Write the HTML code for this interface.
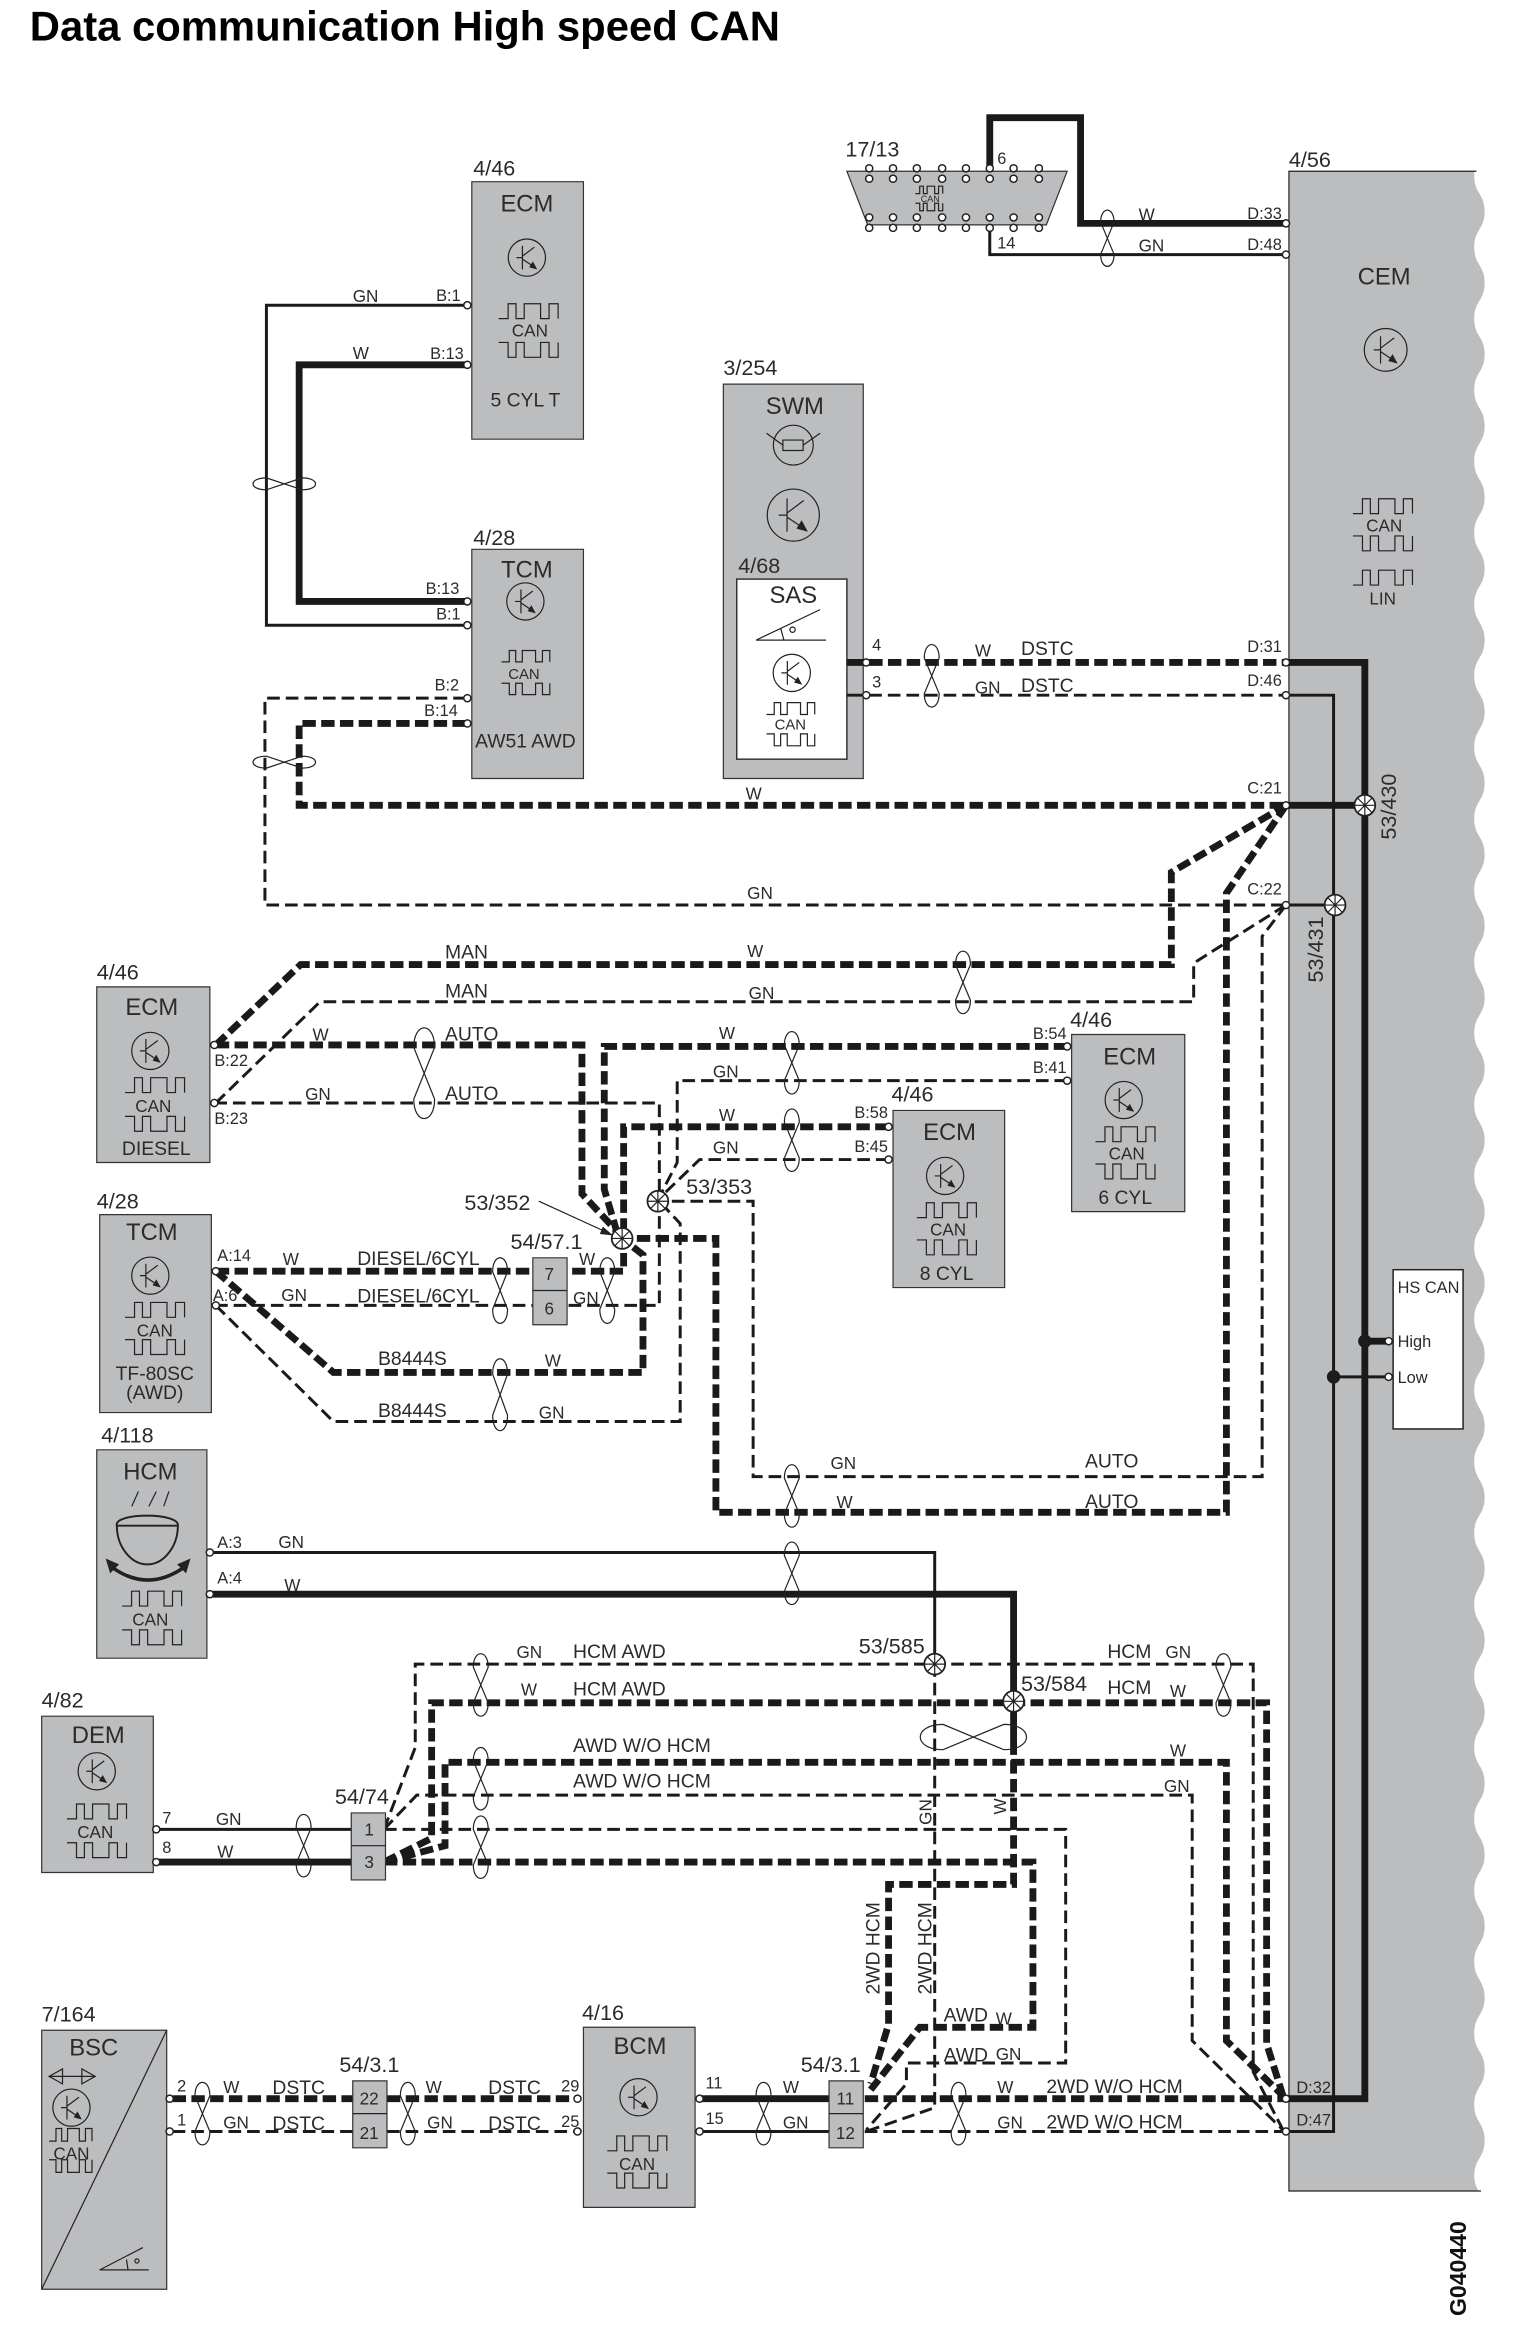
<!DOCTYPE html>
<html><head><meta charset="utf-8"><title>Data communication High speed CAN</title>
<style>
html,body{margin:0;padding:0;background:#fff}
svg{display:block}
text{font-family:"Liberation Sans",sans-serif;fill:#2b2b2b}
.w{fill:none;stroke:#1a1a1a}
.s4{stroke-width:4.6}
.s2{stroke-width:2}
.d4{stroke-width:4.6;stroke-dasharray:9 3.6}
.d2{stroke-width:2;stroke-dasharray:8.5 4}
.l{fill:none;stroke:#222;stroke-width:1.2px;vector-effect:non-scaling-stroke}
.b{fill:#bcbdbf;stroke:#333;stroke-width:1.2px;vector-effect:non-scaling-stroke}
.t11{font-size:11.5px}.t10{font-size:11px}.t12{font-size:13px}.t14{font-size:14.5px}.t16{font-size:16px}
.m{text-anchor:middle}
</style></head><body>
<svg xmlns="http://www.w3.org/2000/svg" width="1536" height="2334" viewBox="0 0 1032 1568">
<defs>
<g id="tr"><circle r="12.5" class="l"/><path class="l" d="M-3-8V8M-7 0H-3M-3-1L5-7M-3 1L3 5"/><path d="M7 8L1.5 6.5L4 2.5z" fill="#222"/></g>
<g id="wu"><path class="l" d="M0 10H6.4V0H11.7V10H17.2V0H28.2V10H33.9V0H40V10"/></g>
<g id="wd"><path class="l" d="M0 0H6.4V10H11.7V0H17.2V10H28.2V0H33.9V10H40V0"/></g>
<g id="tv"><path class="l" d="M-5-12C-5-24 5-24 5-12L-5 12C-5 24 5 24 5 12Z" fill="none"/></g>
<g id="sp"><circle r="7" fill="#fff" stroke="#222" stroke-width="1.2"/><path class="l" d="M-7 0H7M0-7V7M-5-5L5 5M-5 5L5-5"/></g>
<circle id="p" r="2.4" fill="#fff" stroke="#222" stroke-width="1"/>
</defs>

<text x="20" y="27" font-size="28" font-weight="bold" style="fill:#000" textLength="504" lengthAdjust="spacingAndGlyphs">Data communication High speed CAN</text>

<!-- CEM body -->
<path fill="#bcbdbf" d="M866 115H990.5V118
c0 12 7 12 7 24c0 12-7 12-7 24c0 12 7 12 7 24c0 12-7 12-7 24c0 12 7 12 7 24c0 12-7 12-7 24c0 12 7 12 7 24c0 12-7 12-7 24c0 12 7 12 7 24c0 12-7 12-7 24c0 12 7 12 7 24c0 12-7 12-7 24c0 12 7 12 7 24c0 12-7 12-7 24
c0 12 7 12 7 24c0 12-7 12-7 24c0 12 7 12 7 24c0 12-7 12-7 24c0 12 7 12 7 24c0 12-7 12-7 24c0 12 7 12 7 24c0 12-7 12-7 24c0 12 7 12 7 24c0 12-7 12-7 24c0 12 7 12 7 24c0 12-7 12-7 24c0 12 7 12 7 24c0 12-7 12-7 24
c0 12 7 12 7 24c0 12-7 12-7 24c0 12 7 12 7 24c0 12-7 12-7 24c0 12 7 12 7 24c0 12-7 12-7 24c0 12 7 12 7 24c0 12-7 12-7 24c0 12 7 12 7 24c0 12-7 12-7 24c0 12 7 12 7 24c0 12-7 12-7 24c0 12 7 12 7 24c0 12-7 12-7 24
c0 12 7 12 7 24c0 12-7 12-7 24c0 12 7 12 7 24c0 12-7 12-7 24c0 12 7 12 7 24c0 12-7 12-7 24c0 12 7 12 7 24c0 12-7 12-7 24c0 12 7 12 7 24c0 12-7 12-7 24c0 12 7 12 7 24c0 12-7 12-7 24c0 12 7 12 7 24c0 12-7 12-7 24
c0 3 1 7 3 10H866Z"/>
<path class="l" d="M992 115H866V1472H995"/>

<!-- Boxes -->
<rect class="b" x="317" y="122" width="75" height="173"/>
<rect class="b" x="317" y="369" width="75" height="154"/>
<rect class="b" x="486" y="258" width="94" height="265"/>
<rect x="495" y="389" width="74" height="121" fill="#fff" stroke="#333" stroke-width="1"/>
<rect class="b" x="65" y="663" width="76" height="118"/>
<rect class="b" x="67" y="816" width="75" height="133"/>
<rect class="b" x="65" y="974" width="74" height="140"/>
<rect class="b" x="28" y="1153" width="75" height="105"/>
<rect class="b" x="28" y="1364" width="84" height="174"/>
<path class="l" d="M112 1364L28 1538"/>
<rect class="b" x="392" y="1362" width="75" height="121"/>
<rect class="b" x="600" y="746" width="75" height="119"/>
<rect class="b" x="720" y="695" width="76" height="119"/>
<path class="b" d="M569 115H717L703 151H583Z"/>
<rect x="936" y="853" width="47" height="107" fill="#fff" stroke="#222" stroke-width="1"/>

<!-- Wires -->
<g class="w">
<path class="s2" d="M313 205H179V420H313"/>
<path class="s4" d="M313 245H201V404H313"/>
<path class="d2" d="M313 469H178V608H864"/>
<path class="d4" d="M313 486H201V541H864"/>
<path class="s4" d="M665 112V79H726V150H864"/>
<path class="s2" d="M665 153V171H864"/>
<path class="s4" d="M569 445H580"/><path class="d4" d="M584 445H864"/>
<path class="s2" d="M569 467H580"/><path class="d2" d="M584 467H864"/>
<path class="s4" d="M864 445H917V1410H864"/>
<path class="s2" d="M864 467H896V1432H864"/>
<path class="s4" d="M864 541H917"/>
<path class="s2" d="M864 608H897"/>

<path class="d4" d="M145 702L202 648H787V586L864 541"/>
<path class="d2" d="M145 741L215 673H802V647L864 608"/>
<path class="d4" d="M864 541L824 600V1016H481V832H425"/>
<path class="d2" d="M864 608L848 629V992H506V807H448"/>
<path class="d4" d="M145 702H391V802L418 831"/>
<path class="d4" d="M717 703H406V799L414 826"/>
<path class="d4" d="M597 757H419V825"/>
<path class="d2" d="M144 741H443V877H145"/>
<path class="d2" d="M717 726H455V781L442 806"/>
<path class="d2" d="M597 779H470L442 806"/>
<path class="d4" d="M145 854H419V832"/>
<path class="d4" d="M145 854L224 922H432V843L418 832"/>
<path class="d2" d="M145 877L224 955H457V822L442 806"/>

<path class="s2" d="M143 1043H628V1118"/>
<path class="s4" d="M143 1071H681V1143"/>
<path class="d2" d="M628 1118V1416L582 1432"/>
<path class="s4" d="M681 1143V1170"/>
<path class="d4" d="M681 1170V1266H597V1360L585 1400"/>
<path class="d2" d="M258 1229L279 1174V1118H842V1392L862 1431"/>
<path class="d4" d="M258 1251L290 1235V1144H851V1373L862 1408"/>
<path class="d4" d="M258 1251L299 1240V1184H824V1371L862 1408"/>
<path class="d2" d="M258 1229L280 1206H801V1371L862 1431"/>
<path class="d2" d="M258 1229H716V1386H609V1400L582 1431"/>
<path class="d4" d="M258 1251H694V1362H618L585 1404"/>
<path class="d4" d="M581 1410H864"/>
<path class="d2" d="M581 1432H864"/>
<path class="s4" d="M470 1410H558"/>
<path class="s2" d="M470 1432H558"/>
<path class="d4" d="M116 1410H237"/><path class="d4" d="M260 1410H386"/>
<path class="d2" d="M116 1432H237"/><path class="d2" d="M260 1432H386"/>
<path class="s2" d="M105 1229H236"/>
<path class="s4" d="M105 1251H236"/>
<path class="s4" d="M917 901H934"/>
<path class="s2" d="M896 925H934"/>
</g>
<circle cx="917" cy="901" r="4.5" fill="#1c1c1c"/><circle cx="896" cy="925" r="4.5" fill="#1c1c1c"/>

<!-- Connectors above wires -->
<rect class="b" x="358" y="845" width="23" height="45"/><path class="l" d="M358 867H381"/>
<rect class="b" x="236" y="1218" width="23" height="45"/><path class="l" d="M236 1240H259"/>
<rect class="b" x="237" y="1398" width="23" height="45"/><path class="l" d="M237 1420H260"/>
<rect class="b" x="557" y="1398" width="23" height="45"/><path class="l" d="M557 1420H580"/>

<!-- Twists -->
<use href="#tv" transform="translate(744 160) scale(.9 .9)"/>
<use href="#tv" transform="translate(626 454)"/>
<use href="#tv" transform="translate(191 325) rotate(90) scale(.8 1)"/>
<use href="#tv" transform="translate(191 512) rotate(90) scale(.8 1)"/>
<use href="#tv" transform="translate(647 660)"/>
<use href="#tv" transform="translate(285 721) scale(1.4 1.45)"/>
<use href="#tv" transform="translate(532 714)"/>
<use href="#tv" transform="translate(532 766)"/>
<use href="#tv" transform="translate(336 867) scale(1 1.05)"/>
<use href="#tv" transform="translate(408 867) scale(1 1.05)"/>
<use href="#tv" transform="translate(336 937) scale(1 1.15)"/>
<use href="#tv" transform="translate(532 1005)"/>
<use href="#tv" transform="translate(532 1057)"/>
<use href="#tv" transform="translate(323 1132)"/>
<use href="#tv" transform="translate(323 1195)"/>
<use href="#tv" transform="translate(323 1241)"/>
<use href="#tv" transform="translate(822 1132)"/>
<use href="#tv" transform="translate(204 1240)"/>
<use href="#tv" transform="translate(136 1420)"/>
<use href="#tv" transform="translate(274 1420)"/>
<use href="#tv" transform="translate(513 1420)"/>
<use href="#tv" transform="translate(644 1420)"/>
<use href="#tv" transform="translate(654 1167) rotate(90) scale(1.7 1.7)"/>

<!-- Splices -->
<use href="#sp" x="917" y="541"/><use href="#sp" x="897" y="608"/>
<use href="#sp" x="418" y="832"/><use href="#sp" x="442" y="807"/>
<use href="#sp" x="628" y="1118"/><use href="#sp" x="681" y="1143"/>
<path class="l" d="M362 807L408 828"/><path d="M412 830L403 829L405 824Z" fill="#222"/>

<!-- Ports -->
<use href="#p" x="314" y="205"/><use href="#p" x="314" y="245"/>
<use href="#p" x="314" y="404"/><use href="#p" x="314" y="420"/>
<use href="#p" x="314" y="469"/><use href="#p" x="314" y="486"/>
<use href="#p" x="582" y="445"/><use href="#p" x="582" y="467"/>
<use href="#p" x="864" y="150"/><use href="#p" x="864" y="171"/>
<use href="#p" x="864" y="445"/><use href="#p" x="864" y="467"/>
<use href="#p" x="864" y="541"/><use href="#p" x="864" y="608"/>
<use href="#p" x="864" y="1410"/><use href="#p" x="864" y="1432"/>
<use href="#p" x="144" y="702"/><use href="#p" x="144" y="741"/>
<use href="#p" x="145" y="854"/><use href="#p" x="145" y="877"/>
<use href="#p" x="141" y="1043"/><use href="#p" x="141" y="1071"/>
<use href="#p" x="717" y="703"/><use href="#p" x="717" y="726"/>
<use href="#p" x="597" y="757"/><use href="#p" x="597" y="779"/>
<use href="#p" x="105" y="1229"/><use href="#p" x="105" y="1251"/>
<use href="#p" x="114" y="1410"/><use href="#p" x="114" y="1432"/>
<use href="#p" x="388" y="1410"/><use href="#p" x="388" y="1432"/>
<use href="#p" x="470" y="1410"/><use href="#p" x="470" y="1432"/>
<use href="#p" x="933" y="901"/><use href="#p" x="933" y="925"/>
<!-- OBD pins -->
<g>
<use href="#p" x="584" y="113"/><use href="#p" x="600" y="113"/><use href="#p" x="616" y="113"/><use href="#p" x="633" y="113"/><use href="#p" x="649" y="113"/><use href="#p" x="665" y="113"/><use href="#p" x="681" y="113"/><use href="#p" x="698" y="113"/>
<use href="#p" x="584" y="120"/><use href="#p" x="600" y="120"/><use href="#p" x="616" y="120"/><use href="#p" x="633" y="120"/><use href="#p" x="649" y="120"/><use href="#p" x="665" y="120"/><use href="#p" x="681" y="120"/><use href="#p" x="698" y="120"/>
<use href="#p" x="584" y="146"/><use href="#p" x="600" y="146"/><use href="#p" x="616" y="146"/><use href="#p" x="633" y="146"/><use href="#p" x="649" y="146"/><use href="#p" x="665" y="146"/><use href="#p" x="681" y="146"/><use href="#p" x="698" y="146"/>
<use href="#p" x="584" y="153"/><use href="#p" x="600" y="153"/><use href="#p" x="616" y="153"/><use href="#p" x="633" y="153"/><use href="#p" x="649" y="153"/><use href="#p" x="665" y="153"/><use href="#p" x="681" y="153"/><use href="#p" x="698" y="153"/>
</g>

<!-- Transistors -->
<use href="#tr" x="354" y="173"/><use href="#tr" x="353" y="404"/>
<use href="#tr" x="101" y="706"/><use href="#tr" x="101" y="857"/>
<use href="#tr" x="65" y="1190"/><use href="#tr" x="48" y="1416"/>
<use href="#tr" x="429" y="1409"/><use href="#tr" x="635" y="790"/>
<use href="#tr" x="755" y="739"/><use href="#tr" x="532" y="452"/>
<use href="#tr" transform="translate(533 346) scale(1.4)"/>
<use href="#tr" transform="translate(931 235) scale(1.15)"/>

<!-- CAN waves -->
<use href="#wu" x="335" y="204"/><use href="#wd" x="335" y="230"/>
<use href="#wu" transform="translate(337 437) scale(.81 .76)"/><use href="#wd" transform="translate(337 459) scale(.81 .76)"/>
<use href="#wu" x="84" y="724"/><use href="#wd" x="84" y="750"/>
<use href="#wu" x="84" y="875"/><use href="#wd" x="84" y="900"/>
<use href="#wu" x="82" y="1069"/><use href="#wd" x="82" y="1095"/>
<use href="#wu" x="45" y="1212"/><use href="#wd" x="45" y="1238"/>
<use href="#wu" transform="translate(33 1430) scale(.72 .85)"/><use href="#wd" transform="translate(33 1451) scale(.72 .85)"/>
<use href="#wu" x="408" y="1435"/><use href="#wd" x="408" y="1460"/>
<use href="#wu" x="616" y="808"/><use href="#wd" x="616" y="833"/>
<use href="#wu" x="736" y="757"/><use href="#wd" x="736" y="782"/>
<use href="#wu" transform="translate(515 472) scale(.81 .8)"/><use href="#wd" transform="translate(515 493) scale(.81 .8)"/>
<use href="#wu" x="909" y="335"/><use href="#wd" x="909" y="360"/><use href="#wu" x="909" y="383"/>
<use href="#wu" transform="translate(615 125) scale(.46 .5)"/><use href="#wd" transform="translate(615 136.5) scale(.46 .5)"/>

<!-- Symbols -->
<circle cx="533" cy="299" r="13.4" class="l"/><rect x="526" y="295.6" width="13.6" height="7" class="l"/><path class="l" d="M515 291L526 299M551 291L539.6 299"/>
<path class="l" d="M508 430H555M508 430L551 409.5M524.5 422L526.7 430"/><circle cx="532.5" cy="423" r="1.8" class="l"/>
<path class="l" d="M67 1525H100M67 1525L96 1510M85 1518L86 1525"/><circle cx="92" cy="1519" r="1.4" class="l"/>
<path class="l" d="M33 1395H64M33 1395L42 1390V1400ZM64 1395L55 1390V1400Z"/>
<path class="l" d="M93 1002L88.5 1012M105 1002L100 1012M113.5 1002L110 1012"/>
<path fill="none" stroke="#222" stroke-width="1.3" d="M78.5 1025H119.5M78.5 1025C76 1016 121 1016 119.5 1025C119.5 1039 110 1051 99 1051C88 1051 78.5 1039 78.5 1025Z"/>
<path fill="none" stroke="#222" stroke-width="2.4" d="M74 1052Q99 1071 125 1052"/>
<path d="M71 1047L80 1051L74 1057ZM128 1047L119 1051L125 1057Z" fill="#222"/>

<!-- Component labels -->
<g class="t14">
<text x="318" y="118">4/46</text><text x="318" y="366">4/28</text><text x="568" y="105">17/13</text><text x="866" y="112">4/56</text>
<text x="486" y="252">3/254</text><text x="496" y="385">4/68</text><text x="65" y="658">4/46</text><text x="65" y="812">4/28</text>
<text x="68" y="969">4/118</text><text x="28" y="1147">4/82</text><text x="28" y="1358">7/164</text><text x="391" y="1357">4/16</text>
<text x="719" y="690">4/46</text><text x="599" y="740">4/46</text>
<text x="312" y="813">53/352</text><text x="461" y="802">53/353</text><text x="343" y="839">54/57.1</text>
<text x="225" y="1212">54/74</text><text x="228" y="1392">54/3.1</text><text x="538" y="1392">54/3.1</text>
<text x="577" y="1111">53/585</text><text x="686" y="1136">53/584</text>
<text transform="rotate(-90 938 564)" x="938" y="564">53/430</text>
<text transform="rotate(-90 889 660)" x="889" y="660">53/431</text>
</g>
<g class="t16 m">
<text x="354" y="142">ECM</text><text x="354" y="388">TCM</text><text x="534" y="278">SWM</text><text x="533" y="405">SAS</text>
<text x="930" y="191">CEM</text><text x="102" y="682">ECM</text><text x="102" y="833">TCM</text><text x="101" y="994">HCM</text>
<text x="66" y="1171">DEM</text><text x="63" y="1381">BSC</text><text x="430" y="1380">BCM</text><text x="638" y="766">ECM</text><text x="759" y="715">ECM</text>
</g>
<g class="t12 m">
<text x="353" y="273">5 CYL T</text><text x="353" y="502">AW51 AWD</text><text x="105" y="776">DIESEL</text>
<text x="104" y="927">TF-80SC</text><text x="104" y="940">(AWD)</text><text x="636" y="860">8 CYL</text><text x="756" y="809">6 CYL</text>
</g>
<g class="t11 m">
<text x="356" y="226">CAN</text><text x="352" y="456" font-size="10">CAN</text><text x="531" y="490" font-size="10">CAN</text><text x="103" y="747">CAN</text><text x="104" y="898">CAN</text>
<text x="101" y="1092">CAN</text><text x="64" y="1235">CAN</text><text x="48" y="1451">CAN</text><text x="428" y="1458">CAN</text><text x="637" y="830">CAN</text><text x="757" y="779">CAN</text>
<text x="930" y="357">CAN</text><text x="929" y="406">LIN</text>
<text x="625" y="135.5" font-size="6">CAN</text>
<text x="369" y="860">7</text><text x="369" y="883">6</text><text x="248" y="1233">1</text><text x="248" y="1255">3</text>
<text x="248" y="1414">22</text><text x="248" y="1437">21</text><text x="568" y="1414">11</text><text x="568" y="1437">12</text>
</g>
<!-- Pin labels -->
<g class="t10">
<text x="293" y="202">B:1</text><text x="289" y="241">B:13</text><text x="286" y="399">B:13</text><text x="293" y="416">B:1</text><text x="292" y="464">B:2</text><text x="285" y="481">B:14</text>
<text x="670" y="110">6</text><text x="670" y="167">14</text>
<text x="838" y="147">D:33</text><text x="838" y="168">D:48</text><text x="838" y="438">D:31</text><text x="838" y="461">D:46</text><text x="838" y="533">C:21</text><text x="838" y="601">C:22</text>
<text x="871" y="1406">D:32</text><text x="871" y="1428">D:47</text>
<text x="586" y="437">4</text><text x="586" y="462">3</text>
<text x="144" y="716">B:22</text><text x="144" y="755">B:23</text><text x="146" y="847">A:14</text><text x="143" y="874">A:6</text>
<text x="146" y="1040">A:3</text><text x="146" y="1064">A:4</text>
<text x="694" y="698">B:54</text><text x="694" y="721">B:41</text><text x="574" y="751">B:58</text><text x="574" y="774">B:45</text>
<text x="109" y="1225">7</text><text x="109" y="1245">8</text><text x="119" y="1405">2</text><text x="119" y="1428">1</text><text x="377" y="1405">29</text><text x="377" y="1429">25</text><text x="474" y="1403">11</text><text x="474" y="1427">15</text>
<text x="939" y="868.5">HS CAN</text><text x="939" y="905">High</text><text x="939" y="929">Low</text>
</g>
<!-- Wire labels -->
<g class="t11">
<text x="237" y="203">GN</text><text x="237" y="241">W</text><text x="765" y="148">W</text><text x="765" y="169">GN</text>
<text x="655" y="441">W</text><text x="655" y="466">GN</text><text x="501" y="537">W</text><text x="502" y="604">GN</text>
<text x="502" y="643">W</text><text x="503" y="671">GN</text><text x="210" y="699">W</text><text x="205" y="739">GN</text>
<text x="483" y="698">W</text><text x="479" y="724">GN</text><text x="483" y="753">W</text><text x="479" y="775">GN</text>
<text x="190" y="850">W</text><text x="189" y="874">GN</text><text x="389" y="850">W</text><text x="385" y="876">GN</text>
<text x="366" y="918">W</text><text x="362" y="953">GN</text><text x="558" y="987">GN</text><text x="562" y="1013">W</text>
<text x="187" y="1040">GN</text><text x="191" y="1069">W</text>
<text x="347" y="1114">GN</text><text x="350" y="1139">W</text><text x="783" y="1114">GN</text><text x="786" y="1140">W</text>
<text x="786" y="1180">W</text><text x="782" y="1204">GN</text>
<text x="145" y="1226">GN</text><text x="146" y="1248">W</text>
<text x="150" y="1406">W</text><text x="150" y="1430">GN</text><text x="286" y="1406">W</text><text x="287" y="1430">GN</text>
<text x="526" y="1406">W</text><text x="526" y="1430">GN</text><text x="670" y="1406">W</text><text x="670" y="1430">GN</text>
<text x="669" y="1360">W</text><text x="669" y="1384">GN</text>
<text transform="rotate(-90 626 1226)" x="626" y="1226">GN</text>
<text transform="rotate(-90 676 1219)" x="676" y="1219">W</text>
</g>
<g class="t12">
<text x="686" y="440">DSTC</text><text x="686" y="465">DSTC</text>
<text x="299" y="644">MAN</text><text x="299" y="670">MAN</text><text x="299" y="699">AUTO</text><text x="299" y="739">AUTO</text>
<text x="240" y="850">DIESEL/6CYL</text><text x="240" y="875">DIESEL/6CYL</text><text x="254" y="917">B8444S</text><text x="254" y="952">B8444S</text>
<text x="729" y="986">AUTO</text><text x="729" y="1013">AUTO</text>
<text x="385" y="1114">HCM AWD</text><text x="385" y="1139">HCM AWD</text><text x="385" y="1177">AWD W/O HCM</text><text x="385" y="1201">AWD W/O HCM</text>
<text x="744" y="1114">HCM</text><text x="744" y="1138">HCM</text>
<text x="183" y="1407">DSTC</text><text x="183" y="1431">DSTC</text><text x="328" y="1407">DSTC</text><text x="328" y="1431">DSTC</text>
<text x="634" y="1358">AWD</text><text x="634" y="1385">AWD</text>
<text x="703" y="1406">2WD W/O HCM</text><text x="703" y="1430">2WD W/O HCM</text>
<text transform="rotate(-90 591 1340)" x="591" y="1340">2WD HCM</text>
<text transform="rotate(-90 626 1340)" x="626" y="1340">2WD HCM</text>
</g>
<text transform="rotate(-90 985 1556)" x="985" y="1556" font-size="15.5" font-weight="bold" style="fill:#111">G040440</text>
</svg>
</body></html>
